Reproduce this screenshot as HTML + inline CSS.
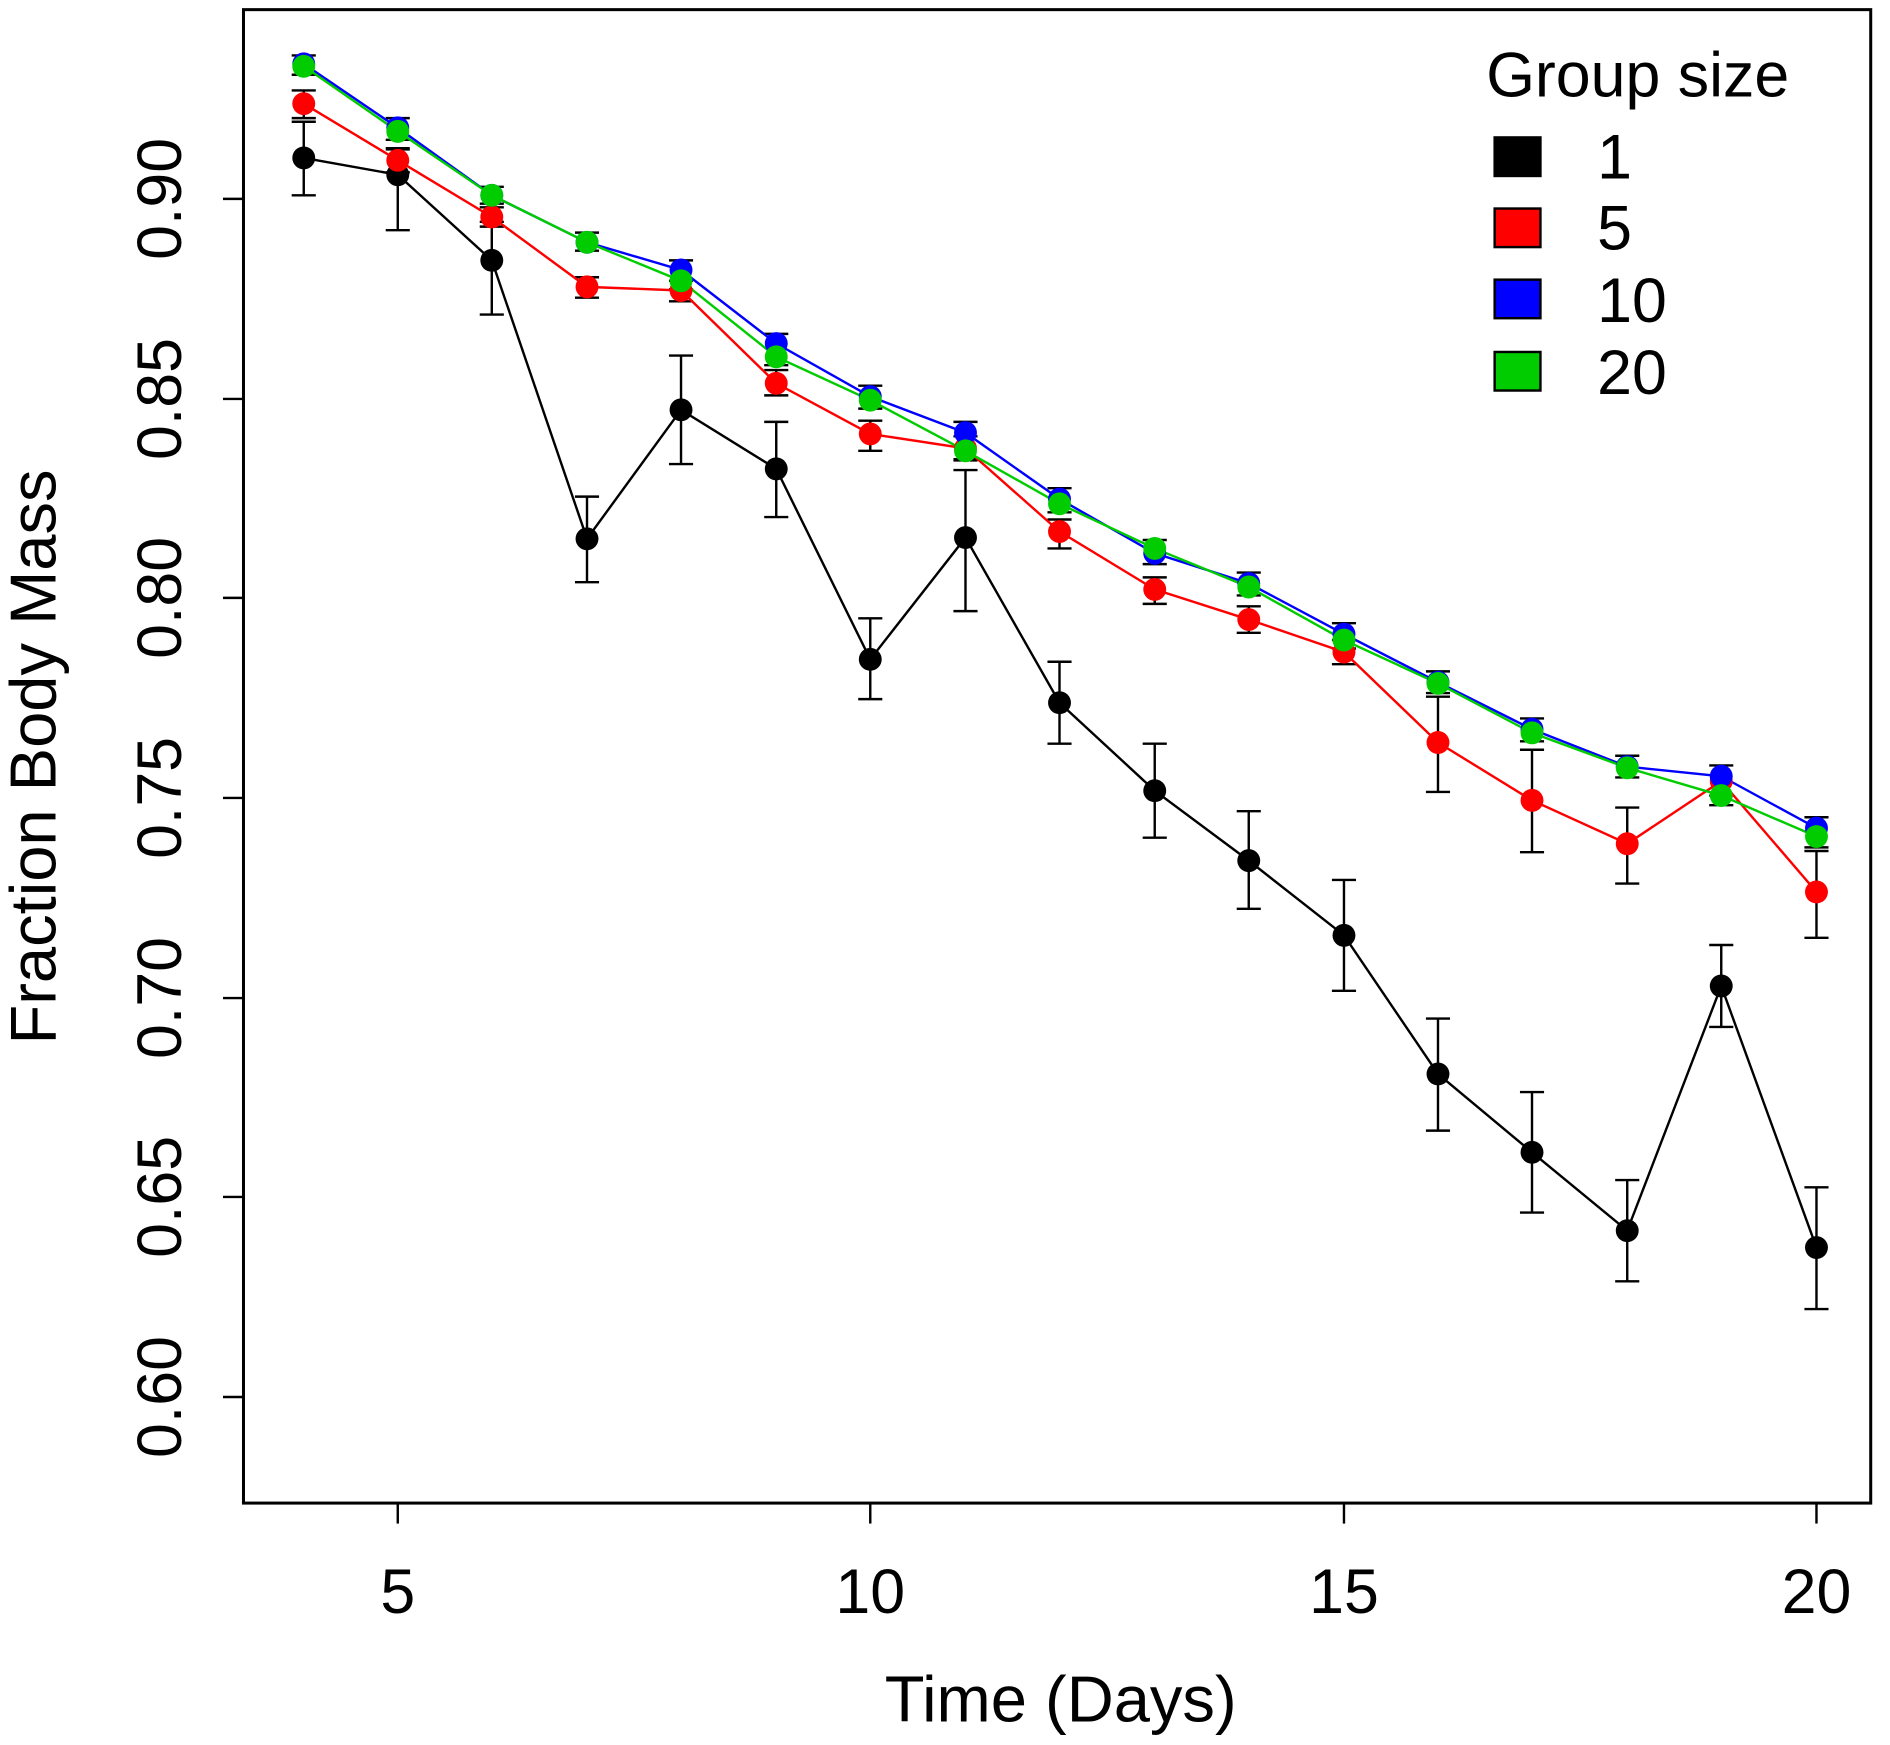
<!DOCTYPE html>
<html><head><meta charset="utf-8"><style>html,body{margin:0;padding:0;background:#fff}svg{display:block}</style></head>
<body>
<svg width="1890" height="1745" viewBox="0 0 1568 1447.7" preserveAspectRatio="none" xmlns="http://www.w3.org/2000/svg" font-family="Liberation Sans, Arial, sans-serif">
<rect x="202" y="8" width="1350" height="1239" fill="none" stroke="#000" stroke-width="2.5"/>
<g stroke="#000" stroke-width="2">
<line x1="330" y1="1247" x2="330" y2="1264"/><line x1="722" y1="1247" x2="722" y2="1264"/><line x1="1115" y1="1247" x2="1115" y2="1264"/><line x1="1507" y1="1247" x2="1507" y2="1264"/>
<line x1="185" y1="165" x2="202" y2="165"/><line x1="185" y1="331" x2="202" y2="331"/><line x1="185" y1="496" x2="202" y2="496"/><line x1="185" y1="662" x2="202" y2="662"/><line x1="185" y1="828" x2="202" y2="828"/><line x1="185" y1="993" x2="202" y2="993"/><line x1="185" y1="1159" x2="202" y2="1159"/>
</g>
<g font-size="52" text-anchor="middle" fill="#000">
<text x="330" y="1338">5</text><text x="722" y="1338">10</text><text x="1115" y="1338">15</text><text x="1507" y="1338">20</text>
<text transform="translate(150,165) rotate(-90)">0.90</text>
<text transform="translate(150,331) rotate(-90)">0.85</text>
<text transform="translate(150,496) rotate(-90)">0.80</text>
<text transform="translate(150,662) rotate(-90)">0.75</text>
<text transform="translate(150,828) rotate(-90)">0.70</text>
<text transform="translate(150,993) rotate(-90)">0.65</text>
<text transform="translate(150,1159) rotate(-90)">0.60</text>
<text x="880" y="1428" font-size="54">Time (Days)</text>
<text transform="translate(46,628) rotate(-90)" font-size="54">Fraction Body Mass</text>
</g>

<!-- error bars -->
<path fill="none" stroke="#000" stroke-width="2" d="
M252 101V162M242 101h20M242 162h20
M330 124V191M320 124h20M320 191h20
M408 184V261M398 184h20M398 261h20
M487 412V483M477 412h20M477 483h20
M565 295V385M555 295h20M555 385h20
M644 350V429M634 350h20M634 429h20
M722 513V580M712 513h20M712 580h20
M801 390V507M791 390h20M791 507h20
M879 549V617M869 549h20M869 617h20
M958 617V695M948 617h20M948 695h20
M1036 673V754M1026 673h20M1026 754h20
M1115 730V822M1105 730h20M1105 822h20
M1193 845V938M1183 845h20M1183 938h20
M1271 906V1006M1261 906h20M1261 1006h20
M1350 979V1063M1340 979h20M1340 1063h20
M1428 784V852M1418 784h20M1418 852h20
M1507 985V1086M1497 985h20M1497 1086h20
M252 75V98M242 75h20M242 98h20
M330 123V143M320 123h20M320 143h20
M408 172V188M398 172h20M398 188h20
M487 230V247M477 230h20M477 247h20
M565 233V250M555 233h20M555 250h20
M644 307V328M634 307h20M634 328h20
M722 349V374M712 349h20M712 374h20
M801 362V382M791 362h20M791 382h20
M879 431V455M869 431h20M869 455h20
M958 479V501M948 479h20M948 501h20
M1036 503V525M1026 503h20M1026 525h20
M1115 531V551M1105 531h20M1105 551h20
M1193 578V657M1183 578h20M1183 657h20
M1271 622V707M1261 622h20M1261 707h20
M1350 670V733M1340 670h20M1340 733h20
M1428 635V660M1418 635h20M1418 660h20
M1507 706V778M1497 706h20M1497 778h20
M252 46V62M242 46h20M242 62h20
M330 98V116M320 98h20M320 116h20
M408 155V169M398 155h20M398 169h20
M487 193V208M477 193h20M477 208h20
M565 216V240M555 216h20M555 240h20
M644 277V303M634 277h20M634 303h20
M722 320V339M712 320h20M712 339h20
M801 350V381M791 350h20M791 381h20
M879 405V425M869 405h20M869 425h20
M958 448V468M948 448h20M948 468h20
M1036 475V494M1026 475h20M1026 494h20
M1115 517V538M1105 517h20M1105 538h20
M1193 557V575M1183 557h20M1183 575h20
M1271 596V615M1261 596h20M1261 615h20
M1350 627V645M1340 627h20M1340 645h20
M1428 635V668M1418 635h20M1418 668h20
M1507 678V703M1497 678h20M1497 703h20"/>

<polyline fill="none" stroke="#000" stroke-width="2" points="252,131 330,145 408,216 487,447 565,340 644,389 722,547 801,446 879,583 958,656 1036,714 1115,776 1193,891 1271,956 1350,1021 1428,818 1507,1035"/>
<polyline fill="none" stroke="#f00" stroke-width="2" points="252,86 330,133 408,180 487,238 565,241 644,318 722,360 801,372 879,441 958,489 1036,514 1115,541 1193,616 1271,664 1350,700 1428,648 1507,740"/>
<polyline fill="none" stroke="#00f" stroke-width="2" points="252,53 330,106 408,162 487,201 565,224 644,285 722,329 801,359 879,414 958,459 1036,484 1115,526 1193,566 1271,605 1350,636 1428,644 1507,687"/>
<polyline fill="none" stroke="#0c0" stroke-width="2" points="252,55 330,109 408,162 487,201 565,233 644,296 722,332 801,374 879,418 958,455 1036,487 1115,531 1193,567 1271,608 1350,637 1428,660 1507,694"/>

<g fill="#000"><circle cx="252" cy="131" r="9.5"/><circle cx="330" cy="145" r="9.5"/><circle cx="408" cy="216" r="9.5"/><circle cx="487" cy="447" r="9.5"/><circle cx="565" cy="340" r="9.5"/><circle cx="644" cy="389" r="9.5"/><circle cx="722" cy="547" r="9.5"/><circle cx="801" cy="446" r="9.5"/><circle cx="879" cy="583" r="9.5"/><circle cx="958" cy="656" r="9.5"/><circle cx="1036" cy="714" r="9.5"/><circle cx="1115" cy="776" r="9.5"/><circle cx="1193" cy="891" r="9.5"/><circle cx="1271" cy="956" r="9.5"/><circle cx="1350" cy="1021" r="9.5"/><circle cx="1428" cy="818" r="9.5"/><circle cx="1507" cy="1035" r="9.5"/></g>
<g fill="#f00"><circle cx="252" cy="86" r="9.5"/><circle cx="330" cy="133" r="9.5"/><circle cx="408" cy="180" r="9.5"/><circle cx="487" cy="238" r="9.5"/><circle cx="565" cy="241" r="9.5"/><circle cx="644" cy="318" r="9.5"/><circle cx="722" cy="360" r="9.5"/><circle cx="801" cy="372" r="9.5"/><circle cx="879" cy="441" r="9.5"/><circle cx="958" cy="489" r="9.5"/><circle cx="1036" cy="514" r="9.5"/><circle cx="1115" cy="541" r="9.5"/><circle cx="1193" cy="616" r="9.5"/><circle cx="1271" cy="664" r="9.5"/><circle cx="1350" cy="700" r="9.5"/><circle cx="1428" cy="648" r="9.5"/><circle cx="1507" cy="740" r="9.5"/></g>
<g fill="#00f"><circle cx="252" cy="53" r="9.5"/><circle cx="330" cy="106" r="9.5"/><circle cx="408" cy="162" r="9.5"/><circle cx="487" cy="201" r="9.5"/><circle cx="565" cy="224" r="9.5"/><circle cx="644" cy="285" r="9.5"/><circle cx="722" cy="329" r="9.5"/><circle cx="801" cy="359" r="9.5"/><circle cx="879" cy="414" r="9.5"/><circle cx="958" cy="459" r="9.5"/><circle cx="1036" cy="484" r="9.5"/><circle cx="1115" cy="526" r="9.5"/><circle cx="1193" cy="566" r="9.5"/><circle cx="1271" cy="605" r="9.5"/><circle cx="1350" cy="636" r="9.5"/><circle cx="1428" cy="644" r="9.5"/><circle cx="1507" cy="687" r="9.5"/></g>
<g fill="#0c0"><circle cx="252" cy="55" r="9.5"/><circle cx="330" cy="109" r="9.5"/><circle cx="408" cy="162" r="9.5"/><circle cx="487" cy="201" r="9.5"/><circle cx="565" cy="233" r="9.5"/><circle cx="644" cy="296" r="9.5"/><circle cx="722" cy="332" r="9.5"/><circle cx="801" cy="374" r="9.5"/><circle cx="879" cy="418" r="9.5"/><circle cx="958" cy="455" r="9.5"/><circle cx="1036" cy="487" r="9.5"/><circle cx="1115" cy="531" r="9.5"/><circle cx="1193" cy="567" r="9.5"/><circle cx="1271" cy="608" r="9.5"/><circle cx="1350" cy="637" r="9.5"/><circle cx="1428" cy="660" r="9.5"/><circle cx="1507" cy="694" r="9.5"/></g>

<g font-size="52" fill="#000">
<text x="1233" y="80">Group size</text>
<rect x="1240" y="114" width="38" height="32" fill="#000" stroke="#000" stroke-width="2"/><text x="1325" y="148">1</text>
<rect x="1240" y="173" width="38" height="32" fill="#f00" stroke="#000" stroke-width="2"/><text x="1325" y="207">5</text>
<rect x="1240" y="232" width="38" height="32" fill="#00f" stroke="#000" stroke-width="2"/><text x="1325" y="267">10</text>
<rect x="1240" y="292" width="38" height="32" fill="#0c0" stroke="#000" stroke-width="2"/><text x="1325" y="327">20</text>
</g>
</svg>
</body></html>
